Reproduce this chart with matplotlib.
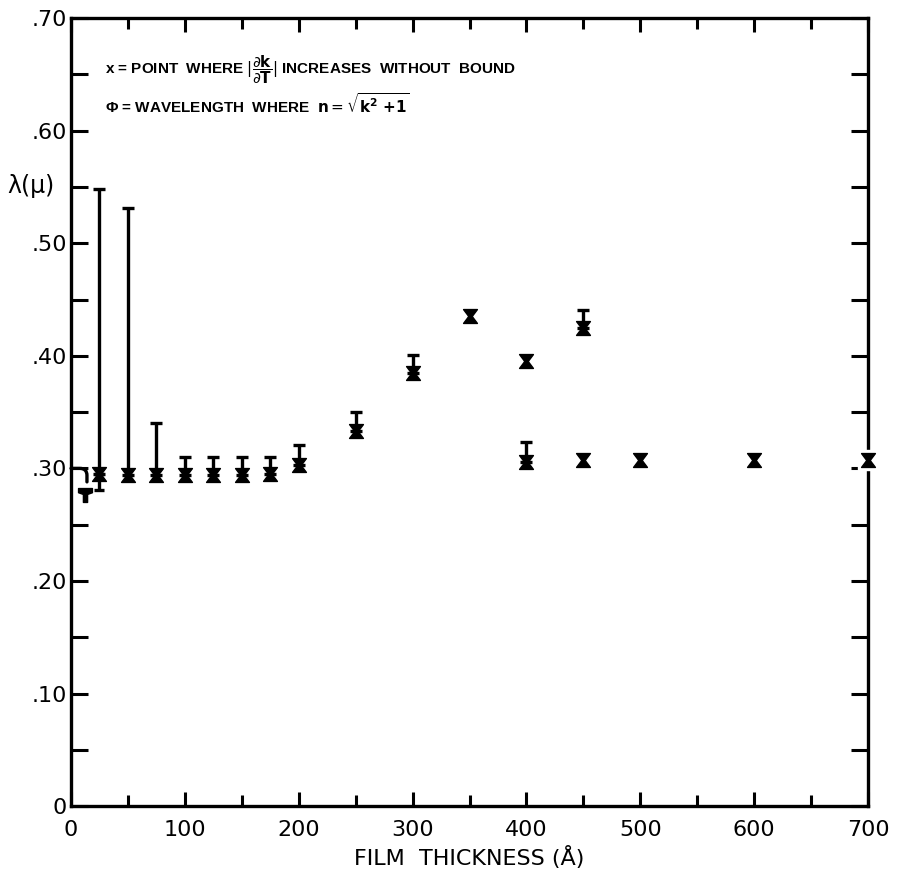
import numpy as np
import matplotlib
matplotlib.use("Agg")
import matplotlib.pyplot as plt
from matplotlib.path import Path
from matplotlib.ticker import MultipleLocator, FuncFormatter

# datos
espesor = [25, 50, 75, 100, 125, 150, 175, 200, 250, 300, 350, 400, 450, 400, 450, 500, 600, 700]
lambda_mu = [0.295, 0.294, 0.294, 0.294, 0.294, 0.294, 0.295, 0.303, 0.333, 0.385,
             0.435, 0.395, 0.425, 0.306, 0.307, 0.307, 0.307, 0.307]
# extremo superior / inferior de cada barra (nan = sin barra)
lambda_sup = [0.548, 0.531, 0.340, 0.310, 0.310, 0.310, 0.310, 0.321, 0.350, 0.401,
              np.nan, np.nan, 0.441, 0.323, np.nan, np.nan, np.nan, np.nan]
lambda_inf = [0.281, np.nan, np.nan, np.nan, np.nan, np.nan, np.nan, np.nan, np.nan, np.nan,
              np.nan, np.nan, np.nan, np.nan, np.nan, np.nan, np.nan, np.nan]

phi_x = [12]
phi_y = [0.276]

TITULO_1 = r"x = POINT  WHERE $|\dfrac{\partial \mathbf{k}}{\partial \mathbf{T}}|$ INCREASES  WITHOUT  BOUND"
TITULO_2 = r"Φ = WAVELENGTH  WHERE  $\mathbf{n} = \sqrt{\mathbf{k}^\mathbf{2}\ \mathbf{+1}}$"
XLABEL = "FILM  THICKNESS (Å)"
YLABEL = "λ(μ)"

FUENTE_TXT = ['Liberation Sans Narrow', 'Liberation Sans', 'DejaVu Sans']

# marcadores
reloj = Path([(-1, 1), (1, 1), (0.25, 0), (1, -1), (-1, -1), (-0.25, 0), (-1, 1)],
             [Path.MOVETO] + [Path.LINETO] * 5 + [Path.CLOSEPOLY])
te = Path([(-1, 1), (1, 1), (1, 0.4), (0.3, 0.15), (0.3, -1), (-0.3, -1), (-0.3, 0.15),
           (-1, 0.4), (-1, 1)],
          [Path.MOVETO] + [Path.LINETO] * 7 + [Path.CLOSEPOLY])

x = np.array(espesor, dtype=float)
y = np.array(lambda_mu)
sup = np.array(lambda_sup)
inf = np.array(lambda_inf)

fig = plt.figure(figsize=(8.99, 8.81), dpi=100)
ax = fig.add_axes([0.079, 0.085, 0.8865, 0.8945])

# barras
for xi, yi, s, i in zip(x, y, sup, inf):
    if not np.isnan(s):
        ax.errorbar([xi], [yi], yerr=[[0], [s - yi]], fmt='none', ecolor='black',
                    elinewidth=2.4, capsize=4.5, capthick=2.4, zorder=7)
    if not np.isnan(i):
        ax.errorbar([xi], [yi], yerr=[[yi - i], [0]], fmt='none', ecolor='black',
                    elinewidth=2.4, capsize=3.5, capthick=2.4, zorder=7)

# fondo blanco para cortar el borde derecho
ax.plot(x, y, 's', color='white', markersize=15, clip_on=False, zorder=5)
ax.plot(x, y, linestyle='none', marker=reloj, color='black', markersize=10,
        clip_on=False, zorder=6)
ax.plot(phi_x, phi_y, linestyle='none', marker=te, color='black', markersize=10,
        clip_on=False, zorder=6)
ax.annotate('', xy=(phi_x[0] + 2, phi_y[0] + 0.012), xytext=(0, 0.30),
            arrowprops=dict(arrowstyle='-', lw=2.4, color='black',
                            connectionstyle='angle,angleA=0,angleB=90,rad=7',
                            shrinkA=0, shrinkB=0), zorder=8)

ax.set_xlim(0, 700)
ax.set_ylim(0, 0.70)
ax.xaxis.set_major_locator(MultipleLocator(100))
ax.xaxis.set_minor_locator(MultipleLocator(50))
ax.yaxis.set_major_locator(MultipleLocator(0.1))
ax.yaxis.set_minor_locator(MultipleLocator(0.05))
ax.yaxis.set_major_formatter(FuncFormatter(lambda v, p: '0' if abs(v) < 1e-9 else ('%.2f' % v)[1:]))
ax.xaxis.set_major_formatter(FuncFormatter(lambda v, p: '%d' % v))

ax.tick_params(which='both', direction='in', top=True, right=True, width=2.2,
               labelsize=16, colors='black')
ax.tick_params(axis='x', which='major', length=10, pad=10)
ax.tick_params(axis='x', which='minor', length=8)
ax.tick_params(axis='y', which='both', length=12, pad=3)
for sp in ax.spines.values():
    sp.set_linewidth(2.4)

ax.set_xlabel(XLABEL, fontsize=16, labelpad=4)
ax.set_ylabel(YLABEL, fontsize=17, rotation=0, va='center')
ax.yaxis.set_label_coords(-0.05, 0.787)

ax.text(30, 0.654, TITULO_1, fontsize=11, fontweight='bold', va='center', ha='left',
        family=FUENTE_TXT)
ax.text(30, 0.624, TITULO_2, fontsize=11, fontweight='bold', va='center', ha='left',
        family=FUENTE_TXT)

fig.savefig("out.png", dpi=100)
